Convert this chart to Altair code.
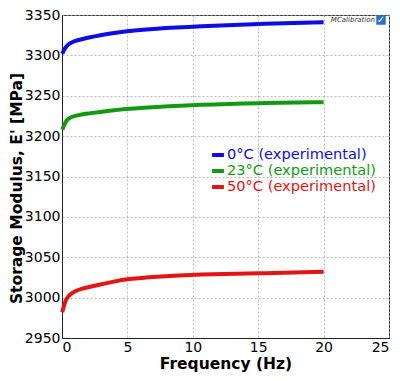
import altair as alt
import pandas as pd

freq = [0.02, 0.1, 0.2, 0.36, 0.6, 1.0, 1.5, 2.0, 2.9, 4.0, 5.0, 7.0, 10.5, 15.0, 20.0]
e_0c = [3302, 3305, 3308, 3312, 3315, 3318, 3320, 3322, 3325, 3328, 3330, 3333, 3336, 3339, 3341]
e_23c = [3208, 3211, 3215, 3220, 3223, 3225, 3227, 3228, 3230, 3232, 3234, 3236, 3239, 3241, 3242]
e_50c = [2982, 2987, 2993, 2999, 3004, 3008, 3011, 3013, 3016, 3020, 3023, 3026, 3029, 3030, 3032]
series = ["0°C (experimental)", "23°C (experimental)", "50°C (experimental)"]
colors = ["#0c0ce6", "#119a11", "#e41414"]

rows = []
for name, vals in zip(series, [e_0c, e_23c, e_50c]):
    for f, v in zip(freq, vals):
        rows.append({"Frequency": f, "E": v, "Series": name})
df = pd.DataFrame(rows)

FONT = "DejaVu Sans"

label_color_expr = (
    f"datum.label == '{series[0]}' ? '{colors[0]}' : "
    f"(datum.label == '{series[1]}' ? '{colors[1]}' : '{colors[2]}')"
)

lines = alt.Chart(df).mark_line(strokeWidth=4, interpolate="basis").encode(
    x=alt.X("Frequency:Q", title="Frequency (Hz)",
            scale=alt.Scale(domain=[0, 25], nice=False),
            axis=alt.Axis(values=[0, 5, 10, 15, 20, 25], format="d")),
    y=alt.Y("E:Q", title="Storage Modulus, E' [MPa]",
            scale=alt.Scale(domain=[2950, 3350], nice=False, zero=False),
            axis=alt.Axis(values=[2950, 3000, 3050, 3100, 3150, 3200, 3250, 3300, 3350], format="d",
                          titleX=-41, titleBaseline="alphabetic", titleY=173)),
    color=alt.Color("Series:N", sort=series,
                    scale=alt.Scale(domain=series, range=colors),
                    legend=alt.Legend(title=None, orient="none", legendX=148, legendY=132,
                                      symbolType="stroke", symbolStrokeWidth=4, symbolSize=140,
                                      labelFontSize=14.6, labelFont=FONT, rowPadding=0,
                                      symbolOffset=0, labelOffset=1,
                                      labelColor={"expr": label_color_expr})),
)

logo = alt.Chart(pd.DataFrame({"t": ["MCalibration"]})).mark_text(
    font=FONT, fontSize=7, fontStyle="italic", align="right", baseline="middle", color="#333"
).encode(x=alt.value(313), y=alt.value(5), text="t:N")

logo_sq = alt.Chart(pd.DataFrame({"t": ["x"]})).mark_square(
    size=90, color="#2a6fd6", opacity=1
).encode(x=alt.value(319), y=alt.value(5))

logo_check = alt.Chart(pd.DataFrame({"t": ["✓"]})).mark_text(
    font=FONT, fontSize=10, fontWeight="bold", align="center", baseline="middle", color="white"
).encode(x=alt.value(319), y=alt.value(5), text="t:N")

chart = alt.layer(lines, logo, logo_sq, logo_check).properties(
    width=327, height=323,
    autosize=alt.AutoSizeParams(type="none"),
    padding={"left": 54, "top": 7, "right": 3, "bottom": 38},
).configure_view(stroke="#222", strokeWidth=1).configure_axis(
    labelFont=FONT, labelFontSize=14, labelColor="#000",
    titleFont=FONT, titleFontSize=15.5, titleFontWeight="bold", titleColor="#000",
    grid=True, gridColor="#a8a8a8", gridDash=[2, 2], gridWidth=0.8,
    domainColor="#222", ticks=False, labelPadding=2,
).configure_axisX(titlePadding=2)

chart.save("out.html", embed_options={"renderer": "svg", "actions": False})
